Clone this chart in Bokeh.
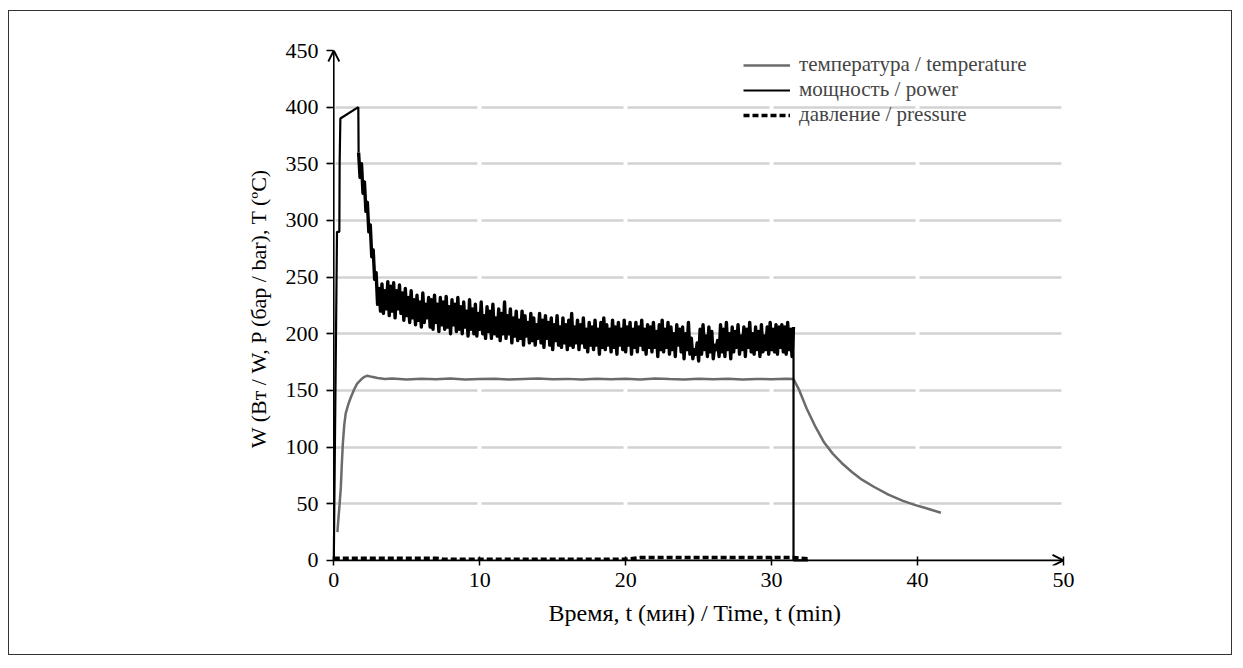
from bokeh.plotting import figure
from bokeh.models import Range1d, FixedTicker, Arrow, OpenHead, Legend, LegendItem
from bokeh.embed import file_html
from bokeh.resources import INLINE

# ---------------- data ----------------
x_ticks = [0, 10, 20, 30, 40, 50]
y_ticks = [0, 50, 100, 150, 200, 250, 300, 350, 400, 450]
x_label = "Время, t (мин) / Time, t (min)"
y_label = "W (Вт / W, P (бар / bar), T (ºC)"
legend_labels = ["температура / temperature", "мощность / power", "давление / pressure"]

# power: start-up part
power_head_t = [0.0, 0.22, 0.38, 0.40, 0.45, 1.68]
power_head = [0, 290, 290, 350, 390, 400]
# power: regulated (noisy) part, sampled every 0.1 min from 1.7 min
power_noise_t0 = 1.7
power_noise_dt = 0.1
power_noise = [
    360, 338, 350, 324, 334, 308, 316, 290, 296, 268,
    274, 248, 254, 226, 240, 220, 244, 218, 238, 222,
    246, 216, 242, 220, 245, 214, 238, 222, 243, 218,
    236, 212, 240, 216, 232, 210, 238, 214, 230, 208,
    234, 212, 228, 206, 236, 210, 226, 214, 232, 206,
    230, 204, 234, 210, 226, 202, 232, 208, 228, 204,
    233, 206, 224, 200, 230, 208, 226, 202, 232, 204,
    224, 200, 228, 206, 220, 198, 230, 204, 222, 200,
    226, 198, 218, 204, 228, 200, 216, 196, 224, 202,
    220, 196, 226, 200, 214, 198, 222, 194, 218, 200,
    228, 196, 216, 200, 222, 192, 214, 198, 220, 194,
    212, 196, 220, 190, 216, 198, 210, 192, 218, 194,
    214, 190, 208, 196, 218, 192, 212, 188, 216, 196,
    210, 190, 214, 186, 208, 194, 216, 190, 206, 188,
    214, 192, 208, 186, 212, 190, 218, 188, 206, 192,
    212, 186, 208, 192, 214, 188, 204, 184, 210, 190,
    206, 186, 212, 190, 204, 182, 210, 188, 214, 186,
    208, 190, 204, 184, 212, 188, 206, 182, 210, 190,
    204, 186, 212, 184, 206, 190, 210, 182, 204, 188,
    210, 184, 206, 190, 212, 186, 204, 182, 208, 188,
    206, 184, 210, 188, 202, 180, 208, 186, 212, 184,
    204, 188, 210, 182, 206, 186, 200, 180, 208, 190,
    204, 184, 206, 178, 200, 186, 210, 182, 196, 178,
    186, 182, 192, 176, 204, 182, 208, 186, 198, 180,
    206, 184, 202, 178, 190, 186, 194, 180, 208, 184,
    204, 180, 210, 186, 200, 178, 206, 184, 202, 188,
    208, 182, 198, 186, 206, 180, 204, 188, 210, 184,
    200, 182, 206, 186, 202, 180, 208, 184, 198, 186,
    206, 182, 210, 186, 204, 184, 208, 182, 206, 188,
    208, 184, 206, 182, 210, 186, 204, 180, 206,
]
power_tail_t = [31.5, 32.5]
power_tail = [0, 0]

# temperature
temp_t = [0.25, 0.27, 0.40, 0.48, 0.55, 0.62, 0.72, 0.82, 1.0, 1.17, 1.4, 1.6,
          1.9, 2.1, 2.3, 2.6, 3.0, 3.5,
          4, 5, 6, 7, 8, 9, 10, 11, 12, 13, 14, 15, 16, 17, 18, 19, 20,
          21, 22, 23, 24, 25, 26, 27, 28, 29, 30, 31, 31.5,
          31.9, 32.4, 33.0, 33.6, 34.2, 34.8, 35.5, 36.1, 37.0, 38.0, 39.0, 39.8, 40.6, 41.6]
temp = [25, 29, 50, 64, 85, 103, 120, 130, 138, 144, 151, 156,
        160, 162, 163, 162, 161, 160,
        160.5, 159.6, 160.3, 159.8, 160.6, 159.7, 160.2, 160.4, 159.6, 160.1,
        160.5, 159.8, 160.2, 159.6, 160.4, 159.9, 160.3, 159.7, 160.5, 160.0,
        159.6, 160.3, 159.8, 160.4, 159.7, 160.2, 159.9, 160.3, 160.0,
        150, 134, 118, 104, 94, 86, 78, 72, 65, 58, 52.5, 49, 46, 42]

# pressure
pres_t = [0, 7, 7.5, 20, 21, 31.5, 32.5]
pres = [2.0, 2.0, 1.0, 1.0, 2.5, 2.5, 1.5]

# ---------------- build ----------------
noise_t = [round(power_noise_t0 + power_noise_dt * i, 2) for i in range(len(power_noise))]

FONT = "Liberation Serif"

# a little room left of t=0 and below 0 so the axis arrows (drawn at 0) are not clipped
p = figure(width=1224, height=645, x_range=Range1d(-0.5, 50), y_range=Range1d(-4.5, 450),
           output_backend="svg", toolbar_location=None,
           min_border_left=317, min_border_right=170, min_border_top=39, min_border_bottom=91)
p.margin = (10, 0, 0, 8)
p.styles = {"border": "1.5px solid #333"}
p.outline_line_color = None
p.background_fill_color = "white"
p.border_fill_color = "white"

# grid: light gray horizontal lines, broken by small white gaps every 10 min
p.ygrid.ticker = FixedTicker(ticks=y_ticks[1:])
p.ygrid.grid_line_color = "#d2d2d2"
p.ygrid.grid_line_width = 2.5
p.ygrid.grid_line_dash = "142 4"
p.ygrid.grid_line_dash_offset = 137
p.xgrid.grid_line_color = None

for ax in (p.xaxis[0], p.yaxis[0]):
    ax.axis_line_color = None
    ax.major_tick_line_color = "black"
    ax.major_tick_line_width = 1.5
    ax.minor_tick_line_color = None
    ax.major_label_text_font = FONT
    ax.major_label_text_font_size = "22px"
    ax.major_label_text_color = "black"
    ax.axis_label_text_font = FONT
    ax.axis_label_text_font_style = "normal"
    ax.axis_label_text_color = "black"
p.xaxis.axis_label_text_font_size = "24px"
p.yaxis.axis_label_text_font_size = "22px"

p.xaxis.ticker = FixedTicker(ticks=x_ticks)
p.yaxis.ticker = FixedTicker(ticks=y_ticks)
# ticks run from the frame edge to (and across) the drawn axis lines at 0
p.xaxis.major_tick_in = 9
p.xaxis.major_tick_out = 0
p.yaxis.major_tick_in = 7
p.yaxis.major_tick_out = 0
p.xaxis.major_label_standoff = 7
p.yaxis.major_label_standoff = 8
p.xaxis.axis_label_standoff = 10
p.yaxis.axis_label_standoff = 12
p.xaxis.axis_label = x_label
p.yaxis.axis_label = y_label

r_temp = p.line(temp_t, temp, line_color="#6b6b6b", line_width=2.5)
# power drawn in three consecutive pieces: start-up, regulated (dense) part, switch-off
r_pow = p.line(power_head_t + noise_t[:1], power_head + power_noise[:1],
               line_color="black", line_width=2.2)
p.line(noise_t, power_noise, line_color="black", line_width=3.4, line_join="round")
p.line(noise_t[-1:] + power_tail_t, power_noise[-1:] + power_tail,
       line_color="black", line_width=2.2)
r_pres = p.line(pres_t, pres, line_color="black", line_width=3.5, line_dash="6 3")

# axis lines with arrow heads, from the origin
p.add_layout(Arrow(end=OpenHead(size=11, line_width=1.8, line_color="black"),
                   x_start=0, y_start=0, x_end=0, y_end=450,
                   line_width=1.6, line_color="black"))
p.add_layout(Arrow(end=OpenHead(size=11, line_width=1.8, line_color="black"),
                   x_start=0, y_start=0, x_end=50, y_end=0,
                   line_width=1.6, line_color="black"))

legend = Legend(items=[LegendItem(label=legend_labels[0], renderers=[r_temp]),
                       LegendItem(label=legend_labels[1], renderers=[r_pow]),
                       LegendItem(label=legend_labels[2], renderers=[r_pres])],
                location=(417, 438), margin=0, padding=0, spacing=0,
                glyph_width=47, glyph_height=22, label_height=22, label_standoff=9,
                label_text_font=FONT, label_text_font_size="21px",
                background_fill_alpha=0, border_line_color=None)
p.add_layout(legend)

open("out.html", "w").write(file_html(p, INLINE))
